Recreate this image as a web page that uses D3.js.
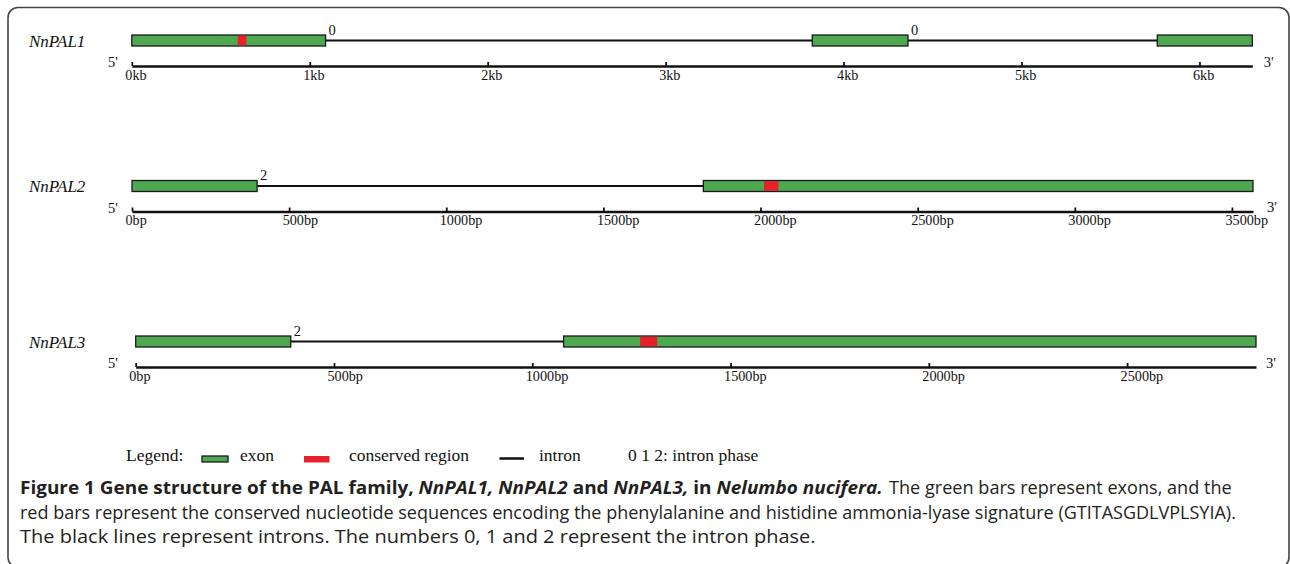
<!DOCTYPE html>
<html><head><meta charset="utf-8">
<script src="https://cdn.jsdelivr.net/npm/d3@7"></script>
<style>html,body{margin:0;padding:0;background:#fff} svg{display:block}</style>
</head><body>
<script>
// ---------------- data ----------------
const genes = ["NnPAL1", "NnPAL2", "NnPAL3"];
const geneLengths = [6297, 3567, 2825];
const exonsPAL1 = [[0, 1089], [3824, 4362], [5763, 6297]];
const exonsPAL2 = [[0, 398], [1818, 3567]];
const exonsPAL3 = [[0, 391], [1079, 2825]];
const conservedPAL1 = [[595, 644]];
const conservedPAL2 = [[2011, 2057]];
const conservedPAL3 = [[1272, 1315]];
const phasesPAL1 = [0, 0];
const phasesPAL2 = [2];
const phasesPAL3 = [2];
const ticksPAL1 = [0, 1000, 2000, 3000, 4000, 5000, 6000];
const tickLabelsPAL1 = ["0kb", "1kb", "2kb", "3kb", "4kb", "5kb", "6kb"];
const ticksPAL2 = [0, 500, 1000, 1500, 2000, 2500, 3000, 3500];
const tickLabelsPAL2 = ["0bp", "500bp", "1000bp", "1500bp", "2000bp", "2500bp", "3000bp", "3500bp"];
const ticksPAL3 = [0, 500, 1000, 1500, 2000, 2500];
const tickLabelsPAL3 = ["0bp", "500bp", "1000bp", "1500bp", "2000bp", "2500bp"];
const legendTitle = "Legend:";
const legendItems = ["exon", "conserved region", "intron"];
const legendNote = "0 1 2: intron phase";
const captionLine1Bold = [
  ["Figure 1 Gene structure of the PAL family, ", "b"],
  ["NnPAL1, NnPAL2", "bi"],
  [" and ", "b"],
  ["NnPAL3,", "bi"],
  [" in ", "b"],
  ["Nelumbo nucifera.", "bi"]
];
const captionLine1Rest = [["The green bars represent exons, and the", "r"]];
const captionLine2 = [["red bars represent the conserved nucleotide sequences encoding the phenylalanine and histidine ammonia-lyase signature (GTITASGDLVPLSYIA).", "r"]];
const captionLine3 = [["The black lines represent introns. The numbers 0, 1 and 2 represent the intron phase.", "r"]];

// ---------------- layout ----------------
const W = 1290, H = 564;
const GREEN = "#4da851", RED = "#e8202a", INK = "#111";
const SERIF = "'Liberation Serif','Times New Roman',serif";

const geneData = [
  {name: genes[0], len: geneLengths[0], exons: exonsPAL1, cons: conservedPAL1, phases: phasesPAL1, ticks: ticksPAL1, labels: tickLabelsPAL1, x0: 131.8, x1: 1252.3, top: 35, endDx: 11.5},
  {name: genes[1], len: geneLengths[1], exons: exonsPAL2, cons: conservedPAL2, phases: phasesPAL2, ticks: ticksPAL2, labels: tickLabelsPAL2, x0: 132, x1: 1253, top: 180.5, endDx: 14},
  {name: genes[2], len: geneLengths[2], exons: exonsPAL3, cons: conservedPAL3, phases: phasesPAL3, ticks: ticksPAL3, labels: tickLabelsPAL3, x0: 135.7, x1: 1256, top: 336, endDx: 10}
];

const svg = d3.select("body").append("svg").attr("width", W).attr("height", H);

// frame (rounded, bottom edge just outside the picture)
svg.append("rect").attr("x", 8).attr("y", 7.5).attr("width", 1281).attr("height", 560)
  .attr("rx", 10).attr("fill", "none").attr("stroke", "#444").attr("stroke-width", 1.6);

const exH = 11;
geneData.forEach(g => {
  const x = d3.scaleLinear().domain([0, g.len]).range([g.x0, g.x1]);
  const grp = svg.append("g");
  const midY = g.top + exH / 2;
  const axisY = g.top + 31;

  // gene name
  grp.append("text").attr("x", 29).attr("y", g.top + 11.5)
    .attr("font-family", SERIF).attr("font-style", "italic").attr("font-size", 17)
    .attr("fill", INK).text(g.name);

  // introns
  const introns = d3.pairs(g.exons).map(([a, b]) => [a[1], b[0]]);
  grp.selectAll("line.intron").data(introns).join("line").attr("class", "intron")
    .attr("x1", d => x(d[0])).attr("x2", d => x(d[1]))
    .attr("y1", midY).attr("y2", midY)
    .attr("stroke", INK).attr("stroke-width", 2);

  // exons
  grp.selectAll("rect.exon").data(g.exons).join("rect").attr("class", "exon")
    .attr("x", d => x(d[0])).attr("width", d => x(d[1]) - x(d[0]))
    .attr("y", g.top).attr("height", exH)
    .attr("fill", GREEN).attr("stroke", "#1a1a1a").attr("stroke-width", 1.3);

  // conserved regions
  grp.selectAll("rect.cons").data(g.cons).join("rect").attr("class", "cons")
    .attr("x", d => x(d[0])).attr("width", d => x(d[1]) - x(d[0]))
    .attr("y", g.top + 0.7).attr("height", exH - 1.4)
    .attr("fill", RED);

  // phases
  grp.selectAll("text.phase").data(introns).join("text").attr("class", "phase")
    .attr("x", d => x(d[0]) + 3).attr("y", g.top - 0.5)
    .attr("font-family", SERIF).attr("font-size", 14.5).attr("fill", INK)
    .text((d, i) => g.phases[i]);

  // axis
  const axis = d3.axisTop(x).tickValues(g.ticks).tickFormat((d, i) => g.labels[i])
    .tickSizeInner(4).tickSizeOuter(0);
  const ag = grp.append("g").attr("transform", `translate(0,${axisY})`).call(axis);
  ag.select(".domain").attr("stroke", INK).attr("stroke-width", 2.6);
  ag.selectAll(".tick line").attr("stroke", INK).attr("stroke-width", 1.8);
  ag.selectAll(".tick text").attr("y", 13.5).attr("dy", 0).attr("dx", -7)
    .attr("text-anchor", "start").attr("font-family", SERIF).attr("font-size", 14.2)
    .attr("fill", INK);

  // 5' / 3'
  grp.append("text").attr("x", 108).attr("y", axisY + 1)
    .attr("font-family", SERIF).attr("font-size", 14.5).attr("fill", INK).text("5'");
  grp.append("text").attr("x", g.x1 + g.endDx).attr("y", axisY + 0.5)
    .attr("font-family", SERIF).attr("font-size", 14.5).attr("fill", INK).text("3'");
});

// legend
const lg = svg.append("g").attr("font-family", SERIF).attr("font-size", 17.5).attr("fill", INK);
const ly = 461;
lg.append("text").attr("x", 126).attr("y", ly).text(legendTitle);
lg.append("rect").attr("x", 202).attr("y", 456).attr("width", 26).attr("height", 6)
  .attr("fill", GREEN).attr("stroke", "#1a1a1a").attr("stroke-width", 1.3);
lg.append("text").attr("x", 240).attr("y", ly).text(legendItems[0]);
lg.append("rect").attr("x", 304).attr("y", 456).attr("width", 25.5).attr("height", 6.5)
  .attr("fill", RED);
lg.append("text").attr("x", 349).attr("y", ly).text(legendItems[1]);
lg.append("line").attr("x1", 499.5).attr("x2", 524).attr("y1", 458.5).attr("y2", 458.5)
  .attr("stroke", INK).attr("stroke-width", 2.5);
lg.append("text").attr("x", 539).attr("y", ly).text(legendItems[2]);
lg.append("text").attr("x", 628).attr("y", ly).text(legendNote);

// caption
const SANS = "'Open Sans','Noto Sans',sans-serif";
const capParts = [
  {segs: captionLine1Bold, y: 494, start: 20, end: 883},
  {segs: captionLine1Rest, y: 494, start: 889, end: 1232},
  {segs: captionLine2, y: 518.5, start: 20, end: 1237},
  {segs: captionLine3, y: 543, start: 20, end: 816}
];
capParts.forEach(l => {
  const g = svg.append("g");
  const t = g.append("text").attr("x", 0).attr("y", 0)
    .attr("font-family", SANS).attr("font-size", 17.5).attr("fill", "#231f20");
  l.segs.forEach(([s, st]) => {
    t.append("tspan").text(s)
      .attr("font-weight", st === "r" ? 400 : 700)
      .attr("font-style", st === "bi" ? "italic" : "normal");
  });
  const w = t.node().getComputedTextLength();
  const sx = (l.end - l.start) / w;
  g.attr("transform", `translate(${l.start},${l.y}) scale(${sx},1)`);
});
</script>
</body></html>
